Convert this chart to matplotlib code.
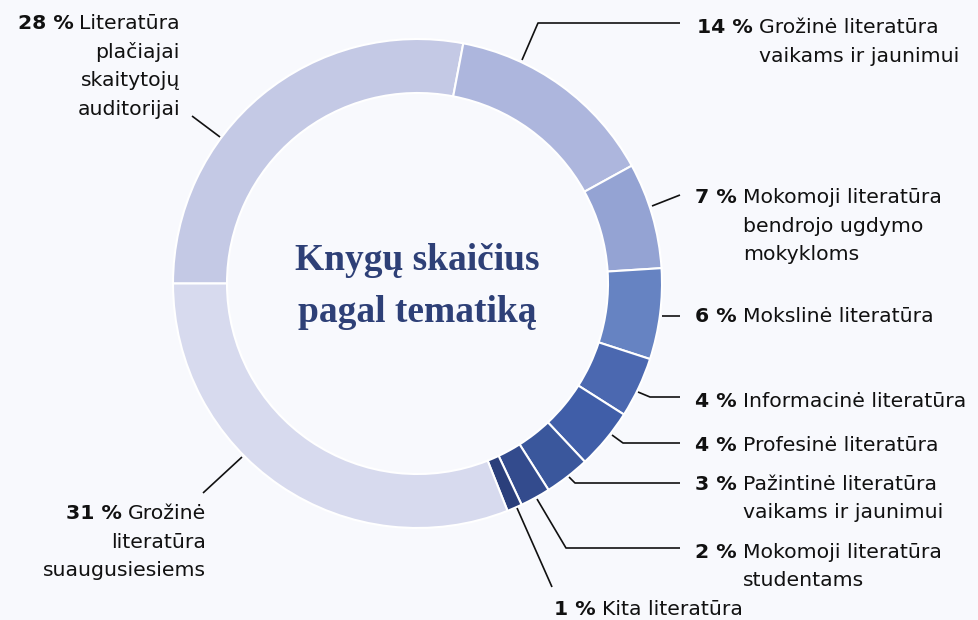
import matplotlib.pyplot as plt

# Data (clockwise from 9 o'clock)
shares = [28, 14, 7, 6, 4, 4, 3, 2, 1, 31]
pct_labels = ["28 %", "14 %", "7 %", "6 %", "4 %", "4 %", "3 %", "2 %", "1 %", "31 %"]
names = [
    ["Literatūra", "plačiajai", "skaitytojų", "auditorijai"],
    ["Grožinė literatūra", "vaikams ir jaunimui"],
    ["Mokomoji literatūra", "bendrojo ugdymo", "mokykloms"],
    ["Mokslinė literatūra"],
    ["Informacinė literatūra"],
    ["Profesinė literatūra"],
    ["Pažintinė literatūra", "vaikams ir jaunimui"],
    ["Mokomoji literatūra", "studentams"],
    ["Kita literatūra"],
    ["Grožinė", "literatūra", "suaugusiesiems"],
]
colors = ["#C4C9E5", "#ADB6DD", "#94A3D3", "#6683C2", "#4B68B0",
          "#405EA8", "#3A579C", "#334B8D", "#2B3F7B", "#D7DAEE"]
title = "Knygų skaičius\npagal tematiką"

BG = "#F8F9FD"
W, H = 979, 620

fig = plt.figure(figsize=(W / 100, H / 100), dpi=100, facecolor=BG)
ax = fig.add_axes([0, 0, 1, 1])
ax.set_facecolor(BG)


def py(y):
    # pixel row -> data y
    return H - y


cx, cy = 417.5, 283.5
ax.pie(shares, colors=colors, startangle=180, counterclock=False,
       radius=244.5, center=(cx, py(cy)),
       wedgeprops=dict(width=54, edgecolor="white", linewidth=1.5))
ax.set_xlim(0, W)
ax.set_ylim(0, H)
ax.set_aspect("equal")
ax.axis("off")

# title in the hole
for i, line in enumerate(title.split("\n")):
    ax.text(cx, py(270 + i * 52), line, ha="center", va="baseline",
            fontsize=27, fontweight="bold", family="Liberation Serif",
            color="#2E4077")

# label layout: (body x, first baseline, align, leader points)
layout = [
    (180, 29, "right", [(192, 116), (220, 137)]),
    (759, 33, "left", [(522, 60), (538, 23), (680, 23)]),
    (743, 203, "left", [(652, 206), (680, 195)]),
    (743, 322, "left", [(662, 316), (680, 316)]),
    (743, 407, "left", [(638, 392), (650, 397), (680, 397)]),
    (743, 451, "left", [(612, 435), (623, 443), (680, 443)]),
    (743, 490, "left", [(569, 477), (575, 483), (680, 483)]),
    (743, 558, "left", [(537, 499), (566, 548), (680, 548)]),
    (602, 615, "left", [(517, 508), (552, 587)]),
    (206, 519, "right", [(242, 457), (203, 493)]),
]
step = 28.5
fs = 14.7
font = "DejaVu Sans"
gap = 6

renderer = fig.canvas.get_renderer()
for pct, lines, (bx, by, align, pts) in zip(pct_labels, names, layout):
    first = None
    for j, line in enumerate(lines):
        t = ax.text(bx, py(by + j * step), line, ha=align, va="baseline",
                    fontsize=fs, family=font, color="#111111")
        if j == 0:
            first = t
    # bold share goes just left of the first line, same baseline
    x0 = first.get_window_extent(renderer).x0
    ax.text(x0 - gap, py(by), pct, ha="right", va="baseline",
            fontsize=fs, family=font, fontweight="bold", color="#111111")
    xs = [p[0] for p in pts]
    ys = [py(p[1]) for p in pts]
    ax.plot(xs, ys, color="#111111", lw=1.2, solid_capstyle="butt")

fig.savefig("out.png", dpi=100, facecolor=BG)
